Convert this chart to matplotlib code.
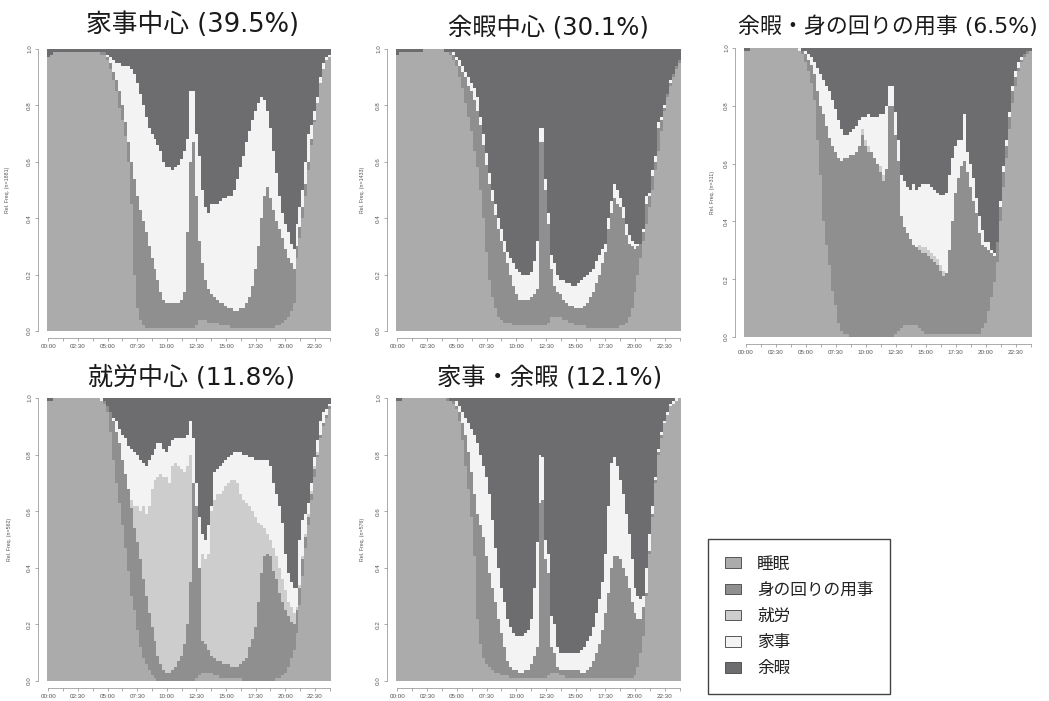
import numpy as np
import matplotlib
matplotlib.use("Agg")
import matplotlib.pyplot as plt
from matplotlib.patches import Patch

plt.rcParams['font.family'] = ['Liberation Sans', 'Noto Sans CJK JP', 'DejaVu Sans']

# ---------------- data ----------------
states = ["睡眠", "身の回りの用事", "就労", "家事", "余暇"]
state_colors = ["#ababab", "#8f8f90", "#cdcdcd", "#f3f3f3", "#6d6d6f"]
time_labels = ["00:00", "02:30", "05:00", "07:30", "10:00",
               "12:30", "15:00", "17:30", "20:00", "22:30"]
titles = ["家事中心 (39.5%)", "余暇中心 (30.1%)", "余暇・身の回りの用事 (6.5%)",
          "就労中心 (11.8%)", "家事・余暇 (12.1%)"]
group_n = [1881, 1433, 311, 562, 576]

# cumulative upper edge (percent) of each state per 15-min slot (96 slots)
# order of stacking: 睡眠 / 身の回りの用事 / 就労 / 家事 / (余暇 = rest)
p1_sleep = [97,98,99,99, 99,99,99,99, 99,99,99,99, 99,99,99,99, 99,99,98,98, 96,93,89,85,
            79,75,69,60, 45,20,8,4, 2,1,1,1, 1,1,1,1, 1,1,1,1, 1,1,1,1,
            1,1,2,4, 4,4,3,3, 3,3,2,2, 2,2,1,1, 1,1,1,1, 1,1,1,1,
            1,1,1,1, 1,2,2,3, 4,5,7,10, 26,33,40,48, 57,66,74,81, 88,93,96,97]
p1_self = [97,98,99,99, 99,99,99,99, 99,99,99,99, 99,99,99,99, 99,99,99,99, 97,95,92,89,
           85,80,74,67, 60,54,48,43, 39,35,30,26, 22,18,14,11, 10,10,10,10, 10,11,14,35,
           60,67,48,32, 24,18,15,13, 12,11,10,10, 9,8,8,7, 7,8,8,10, 12,16,22,30,
           40,48,51,47, 43,39,36,33, 29,26,24,22, 30,37,44,52, 60,68,75,81, 88,93,96,97]
p1_work = list(p1_self)
p1_house = [97,98,99,99, 99,99,99,99, 99,99,99,99, 99,99,99,99, 99,99,99,99, 98,97,96,95,
            95,94,94,94, 93,91,88,84, 80,76,72,70, 68,66,64,60, 58,58,57,58, 59,61,64,68,
            85,85,70,62, 50,44,42,45, 45,45,46,47, 47,48,48,50, 54,58,62,67, 71,75,78,81,
            83,82,78,72, 64,56,48,42, 38,35,31,29, 38,44,50,60, 70,73,78,83, 90,95,97,98]

p2_sleep = [98,99,99,99, 99,99,99,99, 99,100,100,100, 100,100,100,100, 99,99,98,96, 94,90,86,81,
            76,71,64,58, 50,40,28,18, 12,8,5,4, 3,3,3,2, 2,2,2,2, 2,2,2,2,
            2,2,2,3, 5,5,5,5, 4,4,3,3, 2,2,2,2, 1,1,1,1, 1,1,1,1,
            1,1,1,2, 2,3,5,8, 14,20,26,32, 38,44,50,57, 64,71,78,83, 87,90,93,95]
p2_self = [98,99,99,99, 99,99,99,99, 99,100,100,100, 100,100,100,100, 99,99,99,98, 96,94,92,90,
           87,85,82,78, 73,66,59,52, 46,41,36,32, 28,24,20,16, 13,11,11,11, 11,12,13,15,
           67,67,50,38, 22,16,14,13, 11,10,9,9, 8,8,8,9, 10,12,14,17, 20,24,28,36,
           42,47,45,44, 40,34,31,30, 29,30,31,35, 45,48,55,60, 72,75,79,84, 88,91,94,96]
p2_work = list(p2_self)
p2_house = [98,99,99,99, 99,99,99,99, 99,100,100,100, 100,100,100,100, 99,99,99,99, 97,96,94,92,
            90,88,86,83, 76,70,63,56, 50,45,40,36, 32,28,26,24, 22,21,20,20, 20,21,25,32,
            72,72,54,42, 27,24,20,18, 18,17,17,16, 16,17,18,19, 20,21,22,25, 27,29,31,40,
            46,52,50,47, 44,38,34,32, 31,31,31,36, 48,49,57,62, 74,76,80,84, 89,91,94,96]

p3_sleep = [99,99,100,100, 100,100,100,100, 100,100,100,100, 100,100,100,100, 100,100,99,98, 95,92,88,82,
            68,56,40,32, 25,16,11,5, 2,1,1,0, 0,0,0,0, 0,0,0,0, 0,0,0,0,
            0,0,1,2, 3,4,4,4, 4,4,3,2, 1,1,1,1, 1,1,1,1, 1,1,1,1,
            1,1,1,1, 1,1,1,3, 5,9,14,19, 26,40,52,62, 72,81,87,92, 95,97,98,99]
p3_self = [99,99,100,100, 100,100,100,100, 100,100,100,100, 100,100,100,100, 100,100,99,99, 98,96,94,91,
           85,80,77,73, 69,66,64,62, 61,62,62,63, 63,64,66,70, 66,64,64,62, 60,57,54,58,
           80,80,70,61, 42,38,36,34, 32,31,30,29, 29,28,27,26, 25,23,21,22, 30,40,50,55,
           59,61,57,52, 47,43,36,32, 31,30,29,28, 33,45,57,66, 76,85,90,93, 96,98,99,99]
p3_work = [99,99,100,100, 100,100,100,100, 100,100,100,100, 100,100,100,100, 100,100,99,99, 98,96,94,91,
           85,80,77,73, 69,66,64,62, 61,62,62,63, 63,64,66,72, 68,66,64,62, 60,59,56,58,
           80,80,70,61, 42,38,36,34, 32,31,32,31, 31,30,29,28, 27,25,23,22, 30,40,50,55,
           59,61,57,52, 47,43,36,32, 31,30,29,28, 33,45,57,66, 76,85,90,93, 96,98,99,99]
p3_house = [99,99,100,100, 100,100,100,100, 100,100,100,100, 100,100,100,100, 100,100,100,99, 99,98,97,95,
            93,91,89,87, 85,82,79,75, 72,70,70,71, 72,73,75,76, 76,77,76,76, 76,77,77,80,
            87,87,78,68, 56,54,52,51, 53,51,52,53, 53,53,52,51, 50,49,49,50, 56,62,66,68,
            68,77,64,60, 55,48,42,37, 33,33,30,29, 33,47,59,68, 78,87,92,95, 97,98,99,99]

p4_sleep = [99,99,100,100, 100,100,100,100, 100,100,100,100, 100,100,100,100, 100,100,99,98, 95,88,78,70,
            63,55,47,39, 30,25,18,12, 8,6,4,2, 1,0,0,0, 0,0,0,0, 0,0,0,0,
            0,0,1,2, 3,3,3,3, 2,2,1,1, 1,1,1,1, 1,1,0,0, 0,0,0,0,
            0,0,0,0, 0,1,1,2, 3,5,8,11, 17,27,37,47, 55,64,72,79, 86,90,93,96]
p4_self = [99,99,100,100, 100,100,100,100, 100,100,100,100, 100,100,100,100, 100,100,99,99, 97,95,92,88,
           84,78,73,68, 61,54,49,43, 36,30,24,19, 14,9,6,4, 3,3,4,5, 7,9,13,20,
           35,70,62,40, 14,13,11,9, 8,7,7,6, 6,6,5,5, 5,6,7,8, 12,15,19,28,
           38,44,45,44, 39,36,31,28, 25,23,21,20, 25,33,43,51, 58,66,75,80, 87,91,94,97]
p4_work = [99,99,100,100, 100,100,100,100, 100,100,100,100, 100,100,100,100, 100,100,99,99, 97,95,92,88,
           84,78,73,68, 64,62,62,60, 62,59,62,68, 71,72,73,72, 72,70,76,77, 76,75,74,76,
           80,70,62,40, 45,43,45,60, 64,66,66,67, 69,70,71,71, 70,66,64,63, 62,60,58,56,
           55,54,52,50, 47,44,40,36, 32,28,26,24, 26,34,44,52, 59,67,76,81, 87,91,94,97]
p4_house = [99,99,100,100, 100,100,100,100, 100,100,100,100, 100,100,100,100, 100,100,100,99, 96,95,93,92,
            89,87,86,83, 82,81,80,78, 77,76,78,80, 82,84,84,82, 81,83,85,86, 86,86,86,87,
            92,86,70,58, 52,50,55,62, 74,75,76,77, 78,79,80,81, 81,81,80,80, 79,79,78,78,
            78,78,78,76, 70,66,62,56, 45,38,35,33, 33,50,57,59, 63,70,79,85, 92,95,96,98]

p5_sleep = [99,99,100,100, 100,100,100,100, 100,100,100,100, 100,100,100,100, 100,99,99,98, 96,92,85,76,
            68,58,44,22, 13,8,6,5, 4,3,3,2, 2,2,1,1, 1,1,1,1, 1,1,1,1,
            1,1,1,2, 3,3,3,2, 2,1,1,1, 1,1,1,1, 1,1,1,1, 1,1,1,1,
            1,1,1,1, 1,1,1,1, 2,5,10,16, 30,45,58,70, 80,86,91,94, 97,98,99,100]
p5_self = [99,99,100,100, 100,100,100,100, 100,100,100,100, 100,100,100,100, 100,100,99,99, 97,95,91,87,
           81,74,66,59, 55,51,44,38, 33,28,22,17, 12,7,5,4, 4,3,3,4, 4,6,9,12,
           63,64,43,38, 12,10,5,4, 4,4,4,4, 4,4,3,3, 4,5,7,10, 13,18,24,31,
           40,44,44,43, 40,37,33,28, 24,22,22,26, 31,46,59,71, 81,87,91,94, 97,98,99,100]
p5_work = list(p5_self)
p5_house = [99,99,100,100, 100,100,100,100, 100,100,100,100, 100,100,100,100, 100,100,99,99, 99,97,95,93,
            91,89,87,84, 80,76,72,66, 57,47,40,33, 28,22,19,17, 16,16,16,17, 18,22,33,49,
            80,79,50,45, 23,20,12,10, 10,10,10,10, 10,10,11,12, 14,16,19,24, 29,35,45,62,
            77,79,76,71, 66,59,52,43, 33,30,29,30, 40,52,62,72, 82,88,92,95, 98,99,100,100]

panels = [
    (p1_sleep, p1_self, p1_work, p1_house),
    (p2_sleep, p2_self, p2_work, p2_house),
    (p3_sleep, p3_self, p3_work, p3_house),
    (p4_sleep, p4_self, p4_work, p4_house),
    (p5_sleep, p5_self, p5_work, p5_house),
]

# ---------------- layout ----------------
W, H = 1049, 701
fig = plt.figure(figsize=(W / 100, H / 100), dpi=100)


def rect(l, t, r, b):
    return [l / W, 1 - b / H, (r - l) / W, (b - t) / H]


panel_rects = [rect(47, 49, 331, 331), rect(396, 49, 681, 331), rect(744, 48, 1032, 337),
               rect(47, 398, 331, 681), rect(396, 398, 681, 681)]
title_pos = [(192, 25, 18.5), (548, 27, 17.5), (888, 26, 15.8), (192, 377, 18), (550, 377, 17.5)]
ylabel_x = [-0.130, -0.109, -0.100, -0.123, -0.109]
title_family = ["DejaVu Sans", "Noto Sans CJK JP"]

edges = np.arange(97) - 0.5
tick_pos = np.arange(0, 96, 5)

for k, (tops, r) in enumerate(zip(panels, panel_rects)):
    ax = fig.add_axes(r)
    cum = np.array(list(tops) + [[100] * 96], dtype=float) / 100.0
    assert cum.shape == (5, 96)
    cum = np.maximum.accumulate(cum, axis=0)
    base = np.zeros(96)
    for s in range(5):
        ax.stairs(cum[s], edges, baseline=base, fill=True,
                  color=state_colors[s], linewidth=0)
        base = cum[s]
    ax.set_xlim(-0.5, 95.5)
    ax.set_ylim(0, 1)
    for side in ("top", "right"):
        ax.spines[side].set_visible(False)
    ax.spines["left"].set_position(("outward", 6.5))
    ax.spines["bottom"].set_position(("outward", 5))
    ax.spines["left"].set_bounds(0, 1)
    ax.spines["bottom"].set_bounds(0, 95)
    for side in ("left", "bottom"):
        ax.spines[side].set_linewidth(0.5)
        ax.spines[side].set_color("#8a8a8a")
    ax.set_yticks([0, 0.2, 0.4, 0.6, 0.8, 1.0])
    ax.set_yticklabels(["0.0", "0.2", "0.4", "0.6", "0.8", "1.0"],
                       rotation=90, va="center")
    ax.set_xticks(tick_pos)
    ax.set_xticklabels([time_labels[i // 10] if i % 10 == 0 else "" for i in tick_pos])
    ax.tick_params(axis="both", length=2.2, width=0.5, color="#8a8a8a",
                   labelsize=4.5, labelcolor="#555555", pad=2)
    ax.set_ylabel(f"Rel. Freq. (n={group_n[k]})", fontsize=3.8, color="#555555")
    ax.yaxis.set_label_coords(ylabel_x[k], 0.5)
    tx, ty, fs = title_pos[k]
    fig.text(tx / W, 1 - ty / H, titles[k], ha="center", va="center",
             fontsize=fs, family=title_family, color="#1a1a1a")

handles = [Patch(facecolor=c, edgecolor="#555555", linewidth=0.7) for c in state_colors]
leg = fig.legend(handles, states, loc="upper left",
                 bbox_to_anchor=(708 / W, 1 - 539 / H), bbox_transform=fig.transFigure,
                 frameon=True, fancybox=False, edgecolor="#444444", framealpha=1,
                 handlelength=0.95, handleheight=0.6, handletextpad=1.0,
                 labelspacing=0.55, borderpad=1.0, borderaxespad=0,
                 prop={"family": ["Noto Sans CJK JP", "DejaVu Sans"], "size": 12})
leg.get_frame().set_linewidth(1.0)
for t in leg.get_texts():
    t.set_color("#222222")

fig.savefig("out.png", dpi=100, facecolor="white")
